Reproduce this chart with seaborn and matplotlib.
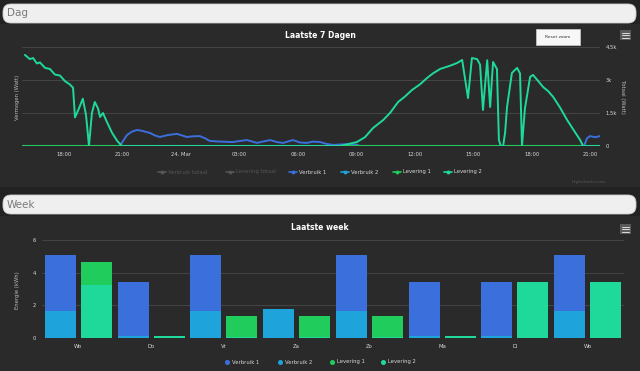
import matplotlib
matplotlib.use("Agg")
import matplotlib.pyplot as plt
import matplotlib.dates as mdates
from matplotlib.patches import FancyBboxPatch, Rectangle
import numpy as np
import pandas as pd
import seaborn as sns

# ---------- data: top chart (last 7 days, zoomed on ~30 h), Watt ----------
lev_t = ["23 16:00", "23 16:15", "23 16:25", "23 16:37", "23 16:46", "23 17:02", "23 17:17",
         "23 17:32", "23 17:48", "23 18:03", "23 18:18", "23 18:28", "23 18:34", "23 18:46",
         "23 18:58", "23 19:08", "23 19:17", "23 19:26", "23 19:35", "23 19:45", "23 19:51",
         "23 20:00", "23 20:12", "23 20:28", "23 20:43", "23 20:58",
         "24 08:09", "24 09:01", "24 09:26", "24 09:51", "24 10:22", "24 10:43", "24 11:08",
         "24 11:29", "24 11:51", "24 12:15", "24 12:37", "24 12:55", "24 13:17", "24 13:48",
         "24 14:09", "24 14:25", "24 14:43", "24 14:55", "24 15:11", "24 15:20", "24 15:29",
         "24 15:42", "24 15:51", "24 16:00", "24 16:12", "24 16:18", "24 16:24", "24 16:31",
         "24 16:37", "24 16:43", "24 16:58", "24 17:14", "24 17:23", "24 17:29", "24 17:38",
         "24 17:54", "24 18:03", "24 18:19", "24 18:34", "24 18:49", "24 19:05", "24 19:26",
         "24 19:48", "24 20:09", "24 20:28", "24 20:37", "24 21:29"]
lev_w = [4140, 3950, 4000, 3750, 3800, 3550, 3500,
         3250, 3200, 2950, 2800, 2650, 1300, 1700,
         2150, 1400, 0, 1500, 2000, 1700, 1320,
         1500, 1100, 600, 250, 0,
         0, 180, 400, 820, 1180, 1500, 2000,
         2250, 2550, 2800, 3090, 3300, 3500, 3650,
         3770, 3910, 2180, 4000, 3950, 3700, 1640,
         3900, 1770, 3820, 3500, 270, 0, 0,
         600, 1770, 3320, 3550, 3300, 0, 1700,
         3140, 3230, 2950, 2680, 2500, 2230, 1750,
         1180, 700, 270, 0, 0]

verb_t = ["23 15:55", "23 20:52", "23 21:05", "23 21:14", "23 21:29", "23 21:45", "23 22:03",
          "23 22:25", "23 22:40", "23 22:55", "23 23:20", "23 23:48", "24 00:03", "24 00:18",
          "24 00:37", "24 00:58", "24 01:14", "24 01:29", "24 02:00", "24 02:40", "24 03:02",
          "24 03:23", "24 03:54", "24 04:12", "24 04:34", "24 04:55", "24 05:14", "24 05:44",
          "24 06:06", "24 06:27", "24 06:46", "24 07:08", "24 07:29", "24 07:48", "24 08:25",
          "24 09:01", "24 09:10", "24 20:40", "24 20:49", "24 20:58", "24 21:14", "24 21:29"]
verb_w = [0, 0, 300, 500, 650, 730, 680,
          590, 480, 410, 500, 550, 480, 410,
          440, 450, 350, 230, 200, 180, 230,
          270, 140, 200, 270, 180, 140, 270,
          160, 140, 200, 180, 90, 50, 80,
          60, 0, 0, 350, 450, 400, 450]

flat_t = ["23 15:50", "24 21:30"]
flat_w = [0, 0]

# ---------- data: bottom chart (last week), kWh ----------
days = ["Wo", "Do", "Vr", "Za", "Zo", "Ma", "Di", "Wo"]
verbruik1 = [3.45, 3.3, 3.45, 0.05, 3.45, 3.3, 3.3, 3.45]
verbruik2 = [1.65, 0.1, 1.65, 1.75, 1.65, 0.1, 0.1, 1.65]
levering1 = [1.4, 0.0, 1.3, 1.3, 1.3, 0.0, 0.0, 0.0]
levering2 = [3.25, 0.1, 0.05, 0.05, 0.05, 0.1, 3.45, 3.45]

C_V1, C_V2, C_L1, C_L2 = "#3b6fdc", "#1ea3db", "#1fcc5c", "#1fd99b"
BG, PANEL, GRID, TXT = "#222223", "#2a2a2b", "#4a4a4d", "#d8d8d8"

sns.set_theme(style="dark")
plt.rcParams["font.family"] = ["DejaVu Sans"]

W, H = 640, 371
fig = plt.figure(figsize=(6.4, 3.71), dpi=100, facecolor=BG)

def px_axes(x0, y0, x1, y1):
    return fig.add_axes([x0 / W, 1 - y1 / H, (x1 - x0) / W, (y1 - y0) / H])

# decoration layer in pixel coordinates
deco = fig.add_axes([0, 0, 1, 1], zorder=0)
deco.set_xlim(0, W); deco.set_ylim(H, 0); deco.axis("off")
deco.add_patch(Rectangle((0, 24), W, 163, color=PANEL, lw=0))
deco.add_patch(Rectangle((0, 216), W, 155, color=PANEL, lw=0))
for y0, label in [(4, "Dag"), (195, "Week")]:
    deco.add_patch(FancyBboxPatch((3, y0), 633, 19, boxstyle="round,pad=0,rounding_size=8",
                                  fc="#efefef", ec="#cfcfcf", lw=0.6))
    deco.text(7, y0 + 9.5, label, color="#7a7a7a", fontsize=7.5, va="center", ha="left")

deco.text(320, 35, "Laatste 7 Dagen", color="white", fontsize=5.5, weight="bold", ha="center", va="center")
deco.text(320, 227, "Laatste week", color="white", fontsize=5.5, weight="bold", ha="center", va="center")
deco.add_patch(Rectangle((536, 29), 44, 16, fc="#f7f7f7", ec="#cccccc", lw=0.5))
deco.text(558, 37, "Reset zoom", color="#333333", fontsize=3.2, ha="center", va="center")
for yc in (35, 229):
    deco.add_patch(Rectangle((620, yc - 5), 11, 10, fc="#5a5a5c", lw=0))
    for dy in (-2.5, 0, 2.5):
        deco.plot([622, 629], [yc + dy, yc + dy], color="#dddddd", lw=0.7)
deco.text(18, 97, "Vermogen (Watt)", color="#bbbbbb", fontsize=3.8, rotation=90, ha="center", va="center")
deco.text(622, 97, "Totaal (Watt)", color="#bbbbbb", fontsize=3.8, rotation=270, ha="center", va="center")
deco.text(17, 290, "Energie (kWh)", color="#bbbbbb", fontsize=3.8, rotation=90, ha="center", va="center")
deco.text(606, 182, "Highcharts.com", color="#555555", fontsize=3.2, ha="right", va="center")

# ---------- top chart ----------
ax1 = px_axes(22, 47, 600, 146)
ax1.set_facecolor("none")
t0 = "2024-03-"
lev = pd.DataFrame({"t": pd.to_datetime([t0 + s for s in lev_t], format="%Y-%m-%d %H:%M"), "w": lev_w})
verb = pd.DataFrame({"t": pd.to_datetime([t0 + s for s in verb_t], format="%Y-%m-%d %H:%M"), "w": verb_w})
flat = pd.DataFrame({"t": pd.to_datetime([t0 + s for s in flat_t], format="%Y-%m-%d %H:%M"), "w": flat_w})

sns.lineplot(data=flat, x="t", y="w", ax=ax1, color=C_V2, lw=1.4)
sns.lineplot(data=verb, x="t", y="w", ax=ax1, color=C_V1, lw=1.4)
sns.lineplot(data=flat, x="t", y="w", ax=ax1, color=C_L1, lw=1.5)
sns.lineplot(data=lev, x="t", y="w", ax=ax1, color=C_L2, lw=1.4)

ax1.set_xlim(pd.Timestamp("2024-03-23 15:51"), pd.Timestamp("2024-03-24 21:29"))
ax1.set_ylim(0, 4500)
ax1.set_yticks([0, 1500, 3000, 4500])
ax1.yaxis.tick_right()
ax1.set_yticklabels(["0", "1.5k", "3k", "4.5k"])
ax1.xaxis.set_major_locator(mdates.HourLocator(byhour=range(0, 24, 3)))
ax1.xaxis.set_major_formatter(mdates.DateFormatter("%H:%M"))
ax1.figure.canvas.draw()
ax1.set_xticklabels([("24. Mar" if lbl.get_text() == "00:00" else lbl.get_text())
                     for lbl in ax1.get_xticklabels()])
ax1.grid(axis="y", color=GRID, lw=0.6)
ax1.grid(axis="x", visible=False)
ax1.set_xlabel(""); ax1.set_ylabel("")
ax1.tick_params(axis="both", colors=TXT, labelsize=3.8, length=0, pad=4)
for s in ax1.spines.values():
    s.set_visible(False)

# top legend
leg_items = [(162, "Verbruik totaal", "#555555", True), (230, "Levering totaal", "#555555", True),
             (293, "Verbruik 1", C_V1, False), (345, "Verbruik 2", C_V2, False),
             (397, "Levering 1", C_L1, False), (448, "Levering 2", C_L2, False)]
for x, name, col, hidden in leg_items:
    deco.plot([x - 4, x + 4], [172, 172], color=col, lw=1.2)
    deco.plot([x], [172], "o", color=col, ms=1.8)
    deco.text(x + 6, 172, name, color="#555555" if hidden else TXT, fontsize=3.8, va="center")

# ---------- bottom chart ----------
ax2 = px_axes(42, 240, 624, 338)
ax2.set_facecolor("none")
x = np.arange(len(days))
off, bw = 0.248, 0.426
v1 = np.array(verbruik1); v2 = np.array(verbruik2)
l1 = np.array(levering1); l2 = np.array(levering2)
ax2.bar(x - off, v2, bw, color=C_V2, lw=0)
ax2.bar(x - off, v1, bw, bottom=v2, color=C_V1, lw=0)
ax2.bar(x + off, l2, bw, color=C_L2, lw=0)
ax2.bar(x + off, l1, bw, bottom=l2, color=C_L1, lw=0)
ax2.set_xlim(-0.5, len(days) - 0.5)
ax2.set_ylim(0, 6)
ax2.set_yticks([0, 2, 4, 6])
ax2.set_xticks(x)
ax2.set_xticklabels(days)
ax2.grid(axis="y", color=GRID, lw=0.6)
ax2.grid(axis="x", visible=False)
ax2.set_axisbelow(True)
ax2.tick_params(axis="both", colors=TXT, labelsize=3.8, length=0, pad=4)
for s in ax2.spines.values():
    s.set_visible(False)

for xl, name, col in [(227, "Verbruik 1", C_V1), (280, "Verbruik 2", C_V2),
                      (332, "Levering 1", C_L1), (383, "Levering 2", C_L2)]:
    deco.plot([xl], [362], "o", color=col, ms=2.6)
    deco.text(xl + 5, 362, name, color=TXT, fontsize=3.8, va="center")

fig.savefig("out.png", dpi=100, facecolor=BG)
